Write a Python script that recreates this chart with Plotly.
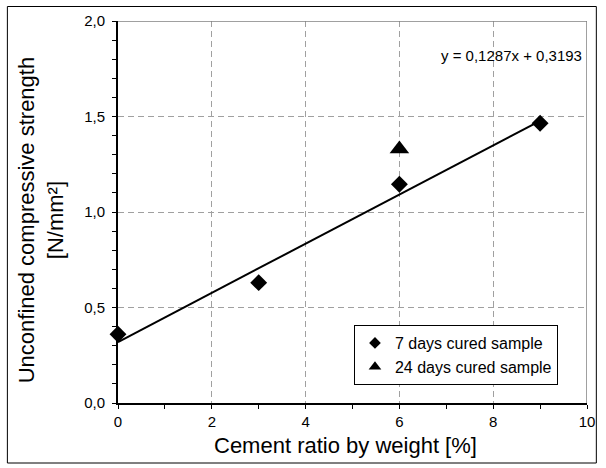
import numpy as np
import plotly.graph_objects as go

# Data
cement_7d = [0, 3, 6, 9]
strength_7d = [0.36, 0.63, 1.145, 1.465]
cement_24d = [6]
strength_24d = [1.33]
slope = 0.1287
intercept = 0.3193
fit_x = np.array([0, 9])
fit_y = slope * fit_x + intercept

x_ticks = [0, 2, 4, 6, 8, 10]
y_ticks = [0.0, 0.5, 1.0, 1.5, 2.0]

FONT = "Liberation Sans, Arial, sans-serif"

fig = go.Figure()
fig.add_trace(go.Scatter(x=fit_x, y=fit_y, mode="lines",
                         line=dict(color="black", width=2), showlegend=False))
fig.add_trace(go.Scatter(x=cement_7d, y=strength_7d, mode="markers",
                         marker=dict(symbol="diamond", size=13, color="black"),
                         showlegend=False, cliponaxis=False))
fig.add_trace(go.Scatter(x=cement_24d, y=strength_24d, mode="markers",
                         marker=dict(symbol="triangle-up", size=17, color="black"),
                         showlegend=False))
# legend entries
fig.add_trace(go.Scatter(x=[None], y=[None], mode="markers", name="7 days cured sample",
                         marker=dict(symbol="diamond", size=9, color="black")))
fig.add_trace(go.Scatter(x=[None], y=[None], mode="markers", name="24 days cured sample",
                         marker=dict(symbol="triangle-up", size=11, color="black")))

grid_col = "#a0a0a0"
fig.update_xaxes(range=[0, 10], tickvals=x_ticks, ticktext=[str(v) for v in x_ticks],
                 showline=True, linecolor="black", linewidth=2,
                 ticks="outside", ticklen=4, tickwidth=1, tickcolor="black",
                 minor=dict(dtick=1, ticks="outside", ticklen=4, tickcolor="black", showgrid=False),
                 showgrid=True, gridcolor=grid_col, griddash="6px,4px", gridwidth=1,
                 zeroline=False, tickfont=dict(size=15, color="black", family=FONT))
fig.update_yaxes(range=[0, 2], tickvals=y_ticks,
                 ticktext=[f"{v:.1f}".replace(".", ",") for v in y_ticks],
                 showline=True, linecolor="black", linewidth=2,
                 ticks="outside", ticklen=4, tickwidth=1, tickcolor="black",
                 minor=dict(dtick=0.1, ticks="outside", ticklen=4, tickcolor="black", showgrid=False),
                 showgrid=True, gridcolor=grid_col, griddash="6px,4px", gridwidth=1,
                 zeroline=False, ticklabelstandoff=4,
                 tickfont=dict(size=15, color="black", family=FONT))

pw = 595 - 118
ph = 403 - 21
def px2paper_x(px):
    return (px - 118) / pw
def px2paper_y(py):
    return (403 - py) / ph

shapes = [
    dict(type="line", xref="x", yref="y", x0=0, x1=10, y0=2, y1=2,
         line=dict(color="#808080", width=1.5)),
    dict(type="line", xref="x", yref="y", x0=10, x1=10, y0=0, y1=2,
         line=dict(color="#808080", width=1.5)),
    dict(type="rect", xref="paper", yref="paper",
         x0=px2paper_x(5.5), x1=px2paper_x(604.5), y0=px2paper_y(463), y1=px2paper_y(6.5),
         line=dict(color="black", width=1), layer="below"),
]

annotations = [
    dict(text="y = 0,1287x + 0,3193", x=9.93, y=1.82, xref="x", yref="y",
         xanchor="right", yanchor="middle", showarrow=False,
         font=dict(size=15, color="black", family=FONT)),
    dict(text="Cement ratio by weight [%]", xref="paper", yref="paper",
         x=px2paper_x(349), y=px2paper_y(446), xanchor="center", yanchor="middle",
         showarrow=False, font=dict(size=22, color="black", family=FONT)),
    dict(text="Unconfined compressive strength<br>[N/mm²]", xref="paper", yref="paper",
         x=px2paper_x(40), y=px2paper_y(220), xanchor="center", yanchor="middle",
         textangle=-90, showarrow=False, font=dict(size=22, color="black", family=FONT)),
]

fig.update_layout(
    width=606, height=468,
    margin=dict(l=118, r=11, t=21, b=65),
    paper_bgcolor="white", plot_bgcolor="white",
    shapes=shapes, annotations=annotations,
    legend=dict(x=px2paper_x(358), y=px2paper_y(325), xanchor="left", yanchor="top",
                bgcolor="white", bordercolor="black", borderwidth=1,
                font=dict(size=16, color="black", family=FONT),
                itemwidth=30, tracegroupgap=0),
    font=dict(family=FONT, color="black"),
)

fig.write_html("out.html")
